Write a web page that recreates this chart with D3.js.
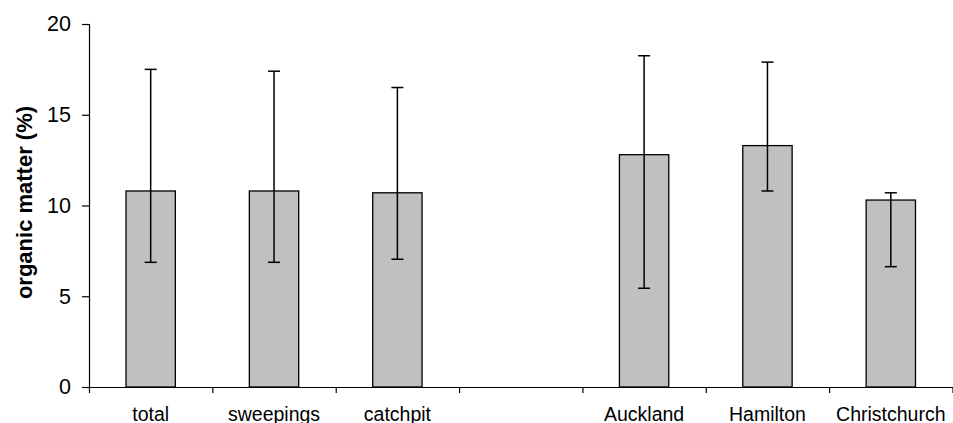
<!DOCTYPE html>
<html>
<head>
<meta charset="utf-8">
<script src="https://cdn.jsdelivr.net/npm/d3@7"></script>
<style>
  body { margin: 0; background: #fff; }
  svg { display: block; font-family: Arial, "Liberation Sans", sans-serif; }
</style>
</head>
<body>
<svg id="drawing_region"></svg>
<script>
// chart values (empty category = gap between groups)
const categories = ["total", "sweepings", "catchpit", "", "Auckland", "Hamilton", "Christchurch"];
const means = [10.8, 10.8, 10.7, null, 12.8, 13.3, 10.3];
const upper = [17.5, 17.4, 16.5, null, 18.25, 17.9, 10.7];
const lower = [6.87, 6.87, 7.04, null, 5.44, 10.8, 6.63];
const y_ticks = [0, 5, 10, 15, 20];

const width = 953, height = 423;
const margin = {top: 24, right: 0.5, bottom: 36, left: 89};

const svg = d3.select('#drawing_region')
    .attr('width', width)
    .attr('height', height);

const chart = svg.append('g')
    .attr('transform', `translate(${margin.left}, ${margin.top})`);

const inner_width = width - margin.left - margin.right;
const inner_height = height - margin.top - margin.bottom;

const x = d3.scaleBand()
    .domain(categories)
    .range([0, inner_width]);

const y = d3.scaleLinear()
    .domain([0, 20])
    .range([inner_height, 0]);

const data = categories.map((c, i) => ({cat: c, v: means[i], hi: upper[i], lo: lower[i]}))
    .filter(d => d.v !== null);

const bar_w = x.bandwidth() * 0.4;

// bars
chart.selectAll('rect.bar')
    .data(data)
    .enter()
    .append('rect')
    .attr('class', 'bar')
    .attr('x', d => x(d.cat) + (x.bandwidth() - bar_w) / 2)
    .attr('y', d => y(d.v))
    .attr('width', bar_w)
    .attr('height', d => y(0) - y(d.v))
    .attr('fill', '#c0c0c0')
    .attr('stroke', '#000')
    .attr('stroke-width', 1.3);

// error bars
const cap = 6;
const err = chart.selectAll('g.err')
    .data(data)
    .enter()
    .append('g')
    .attr('class', 'err')
    .attr('stroke', '#000')
    .attr('stroke-width', 1.5);

err.append('line')
    .attr('x1', d => x(d.cat) + x.bandwidth() / 2)
    .attr('x2', d => x(d.cat) + x.bandwidth() / 2)
    .attr('y1', d => y(d.lo))
    .attr('y2', d => y(d.hi));

err.append('line')
    .attr('x1', d => x(d.cat) + x.bandwidth() / 2 - cap)
    .attr('x2', d => x(d.cat) + x.bandwidth() / 2 + cap)
    .attr('y1', d => y(d.hi))
    .attr('y2', d => y(d.hi));

err.append('line')
    .attr('x1', d => x(d.cat) + x.bandwidth() / 2 - cap)
    .attr('x2', d => x(d.cat) + x.bandwidth() / 2 + cap)
    .attr('y1', d => y(d.lo))
    .attr('y2', d => y(d.lo));

// y axis
const yaxis = d3.axisLeft(y)
    .tickValues(y_ticks)
    .tickSize(7)
    .tickPadding(11);

const yaxis_group = chart.append('g').call(yaxis);
yaxis_group.selectAll('text')
    .attr('font-size', '21.5px')
    .attr('font-family', 'Arial, "Liberation Sans", sans-serif')
    .attr('fill', '#000');

// x axis: boundary ticks
const xb = d3.scaleLinear().domain([0, categories.length]).range([0, inner_width]);
const xaxis_ticks = d3.axisBottom(xb)
    .ticks(categories.length)
    .tickSize(6)
    .tickSizeOuter(0)
    .tickFormat('');

chart.append('g')
    .attr('transform', `translate(0, ${inner_height})`)
    .call(xaxis_ticks);

// x axis: category labels
const xaxis_labels = d3.axisBottom(x)
    .tickSize(0)
    .tickPadding(20);

const xlab = chart.append('g')
    .attr('transform', `translate(0, ${inner_height})`)
    .call(xaxis_labels);
xlab.select('.domain').remove();
xlab.selectAll('text')
    .attr('font-size', '19.5px')
    .attr('font-family', 'Arial, "Liberation Sans", sans-serif')
    .attr('fill', '#000');

chart.selectAll('.domain, .tick line')
    .attr('stroke', '#000')
    .attr('stroke-width', 1.2);

// y axis title
svg.append('text')
    .attr('transform', `translate(32, ${margin.top + inner_height / 2 - 3}) rotate(-90)`)
    .attr('text-anchor', 'middle')
    .attr('font-size', '22px')
    .attr('font-weight', 'bold')
    .attr('fill', '#000')
    .text('organic matter (%)');
</script>
</body>
</html>
